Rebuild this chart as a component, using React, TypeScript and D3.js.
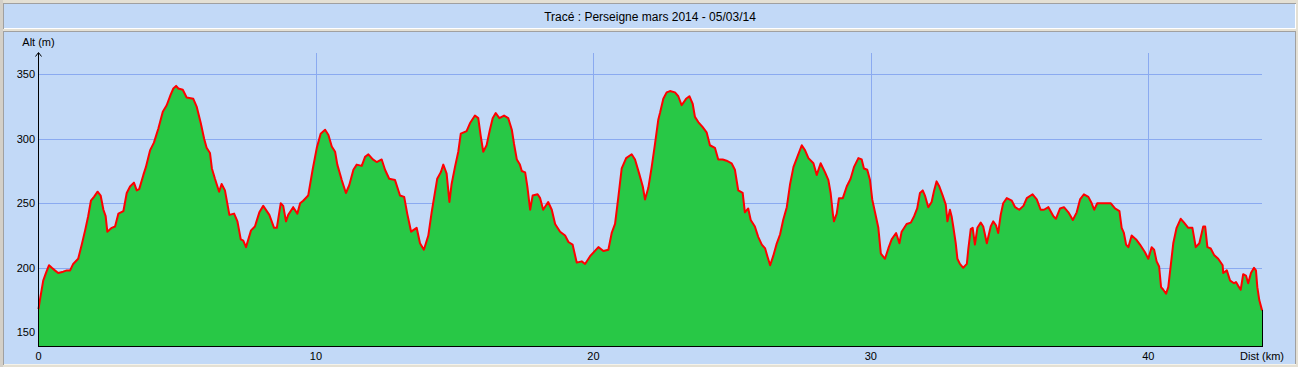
// Elevation profile: "Tracé : Perseigne mars 2014"
import * as d3 from 'd3';

// Chart size
const W = 1298;
const H = 367;

// Distance along the track (km)
const distKm = [
  0, 0.05, 0.17, 0.27, 0.38, 0.48, 0.59, 0.71, 0.89, 1.02, 1.14, 1.25, 1.43, 1.56, 1.68, 1.79, 1.89, 2.0, 2.13, 2.24,
  2.34, 2.42, 2.48, 2.64, 2.76, 2.88, 3.06, 3.18, 3.3, 3.44, 3.54, 3.63, 3.78, 3.87, 4.02, 4.16, 4.32, 4.48, 4.62, 4.76,
  4.86, 4.96, 5.04, 5.2, 5.34, 5.58, 5.7, 5.85, 5.97, 6.06, 6.18, 6.25, 6.36, 6.51, 6.6, 6.72, 6.88, 7.05, 7.17, 7.29,
  7.38, 7.48, 7.66, 7.8, 7.96, 8.1, 8.32, 8.49, 8.59, 8.73, 8.82, 8.92, 9.0, 9.18, 9.33, 9.43, 9.54, 9.72, 9.88, 10.03,
  10.17, 10.33, 10.45, 10.57, 10.69, 10.77, 10.93, 11.08, 11.2, 11.35, 11.47, 11.65, 11.77, 11.89, 12.05, 12.19, 12.37, 12.49, 12.64, 12.85,
  13.03, 13.18, 13.29, 13.43, 13.63, 13.75, 13.89, 14.05, 14.17, 14.37, 14.5, 14.59, 14.71, 14.77, 14.81, 14.89, 15.01, 15.13, 15.22, 15.43,
  15.55, 15.73, 15.85, 15.94, 16.03, 16.15, 16.27, 16.37, 16.48, 16.61, 16.78, 16.93, 17.06, 17.14, 17.24, 17.35, 17.42, 17.54, 17.62, 17.72,
  17.81, 17.99, 18.08, 18.19, 18.37, 18.5, 18.62, 18.8, 18.98, 19.1, 19.25, 19.4, 19.58, 19.7, 19.88, 20.18, 20.36, 20.54, 20.66, 20.78,
  20.9, 21.02, 21.18, 21.38, 21.5, 21.65, 21.78, 21.86, 21.98, 22.1, 22.22, 22.34, 22.4, 22.52, 22.64, 22.76, 22.94, 23.06, 23.18, 23.34,
  23.46, 23.58, 23.66, 23.78, 23.94, 24.08, 24.2, 24.38, 24.5, 24.66, 24.8, 24.98, 25.1, 25.22, 25.38, 25.46, 25.58, 25.67, 25.82, 25.94,
  26.07, 26.19, 26.27, 26.37, 26.48, 26.61, 26.73, 26.84, 26.97, 27.09, 27.21, 27.35, 27.51, 27.63, 27.75, 27.93, 28.05, 28.19, 28.35, 28.47,
  28.55, 28.63, 28.67, 28.77, 28.85, 28.99, 29.13, 29.27, 29.39, 29.55, 29.67, 29.75, 29.87, 29.97, 30.05, 30.15, 30.27, 30.36, 30.51, 30.63,
  30.75, 30.91, 31.03, 31.11, 31.29, 31.44, 31.56, 31.67, 31.77, 31.87, 31.95, 32.07, 32.19, 32.28, 32.37, 32.47, 32.59, 32.7, 32.76, 32.85,
  32.91, 32.97, 33.06, 33.12, 33.21, 33.33, 33.46, 33.51, 33.6, 33.67, 33.75, 33.84, 33.96, 34.05, 34.18, 34.32, 34.41, 34.51, 34.59, 34.68,
  34.77, 34.9, 35.08, 35.2, 35.35, 35.5, 35.62, 35.83, 35.98, 36.12, 36.24, 36.4, 36.58, 36.67, 36.82, 36.96, 37.12, 37.28, 37.42, 37.54,
  37.68, 37.84, 37.96, 38.05, 38.16, 38.44, 38.65, 38.8, 38.96, 39.04, 39.12, 39.2, 39.28, 39.4, 39.56, 39.7, 39.88, 40.0, 40.12, 40.21,
  40.3, 40.39, 40.46, 40.54, 40.64, 40.72, 40.81, 40.9, 41.02, 41.17, 41.29, 41.44, 41.59, 41.71, 41.84, 41.98, 42.05, 42.13, 42.25, 42.37,
  42.52, 42.68, 42.7, 42.83, 42.95, 43.09, 43.16, 43.24, 43.33, 43.42, 43.52, 43.6, 43.7, 43.81, 43.88, 43.93, 44.0, 44.1,
];

// Altitude (m)
const altM = [
  168, 175, 190, 196, 202, 200, 198, 196, 197, 198, 198, 203, 207, 218, 229, 240, 252, 255, 259, 256,
  245, 240, 228, 231, 232, 242, 244, 258, 263, 266, 260, 261, 272, 278, 291, 297, 308, 321, 326, 334,
  339, 341, 339, 338, 332, 331, 325, 312, 300, 293, 289, 277, 269, 259, 265, 260, 241, 242, 236, 222,
  221, 216, 229, 232, 243, 248, 241, 231, 231, 250, 248, 236, 241, 247, 242, 250, 252, 256, 276, 293,
  304, 307, 303, 294, 290, 280, 268, 258, 264, 276, 280, 279, 286, 288, 284, 282, 284, 276, 269, 268,
  256, 255, 242, 228, 231, 219, 214, 225, 243, 269, 274, 280, 273, 260, 251, 265, 278, 290, 304, 306,
  312, 318, 316, 302, 290, 295, 307, 316, 320, 316, 318, 316, 307, 296, 284, 280, 275, 274, 263, 245,
  256, 257, 254, 245, 251, 245, 234, 228, 225, 220, 218, 204, 205, 203, 209, 216, 213, 214, 227, 234,
  255, 277, 285, 288, 284, 273, 263, 253, 262, 278, 296, 315, 320, 331, 336, 337, 336, 333, 326, 331,
  333, 327, 317, 313, 309, 305, 295, 293, 284, 284, 283, 281, 276, 260, 258, 243, 246, 237, 232, 224,
  218, 215, 209, 202, 209, 219, 226, 237, 247, 265, 278, 286, 295, 291, 285, 281, 272, 281, 274, 268,
  258, 242, 236, 242, 254, 254, 263, 269, 278, 285, 284, 277, 276, 268, 253, 243, 231, 211, 207, 215,
  222, 227, 219, 228, 234, 235, 240, 246, 258, 260, 256, 247, 251, 260, 267, 263, 256, 249, 236, 245,
  240, 232, 219, 207, 203, 200, 203, 214, 230, 231, 218, 231, 235, 232, 219, 232, 236, 233, 227, 241,
  250, 254, 252, 247, 245, 248, 254, 257, 253, 245, 245, 247, 240, 238, 246, 247, 243, 237, 243, 253,
  257, 255, 250, 245, 250, 250, 250, 246, 244, 231, 227, 218, 216, 225, 222, 218, 212, 207, 216, 214,
  205, 201, 185, 183, 180, 185, 202, 219, 231, 238, 235, 231, 231, 216, 219, 232, 232, 216, 215, 210,
  207, 202, 196, 198, 190, 188, 189, 186, 183, 195, 194, 188, 196, 200, 198, 185, 175, 167,
];

// Axis ticks and grid
const xTicks = [0, 10, 20, 30, 40];
const yTicks = [150, 200, 250, 300, 350];
const xGrid = [10, 20, 30, 40];
const yGrid = [200, 250, 300, 350];

const title = 'Tracé : Perseigne mars 2014 - 05/03/14';

const BG = '#C2D9F7';
const GRID = '#8AAAF0';
const FONT = '"Liberation Sans", Arial, sans-serif';

const App = () => {
  const data = distKm.map((d, i) => ({ d, a: altM[i] }));

  // plot box
  const plotTop = 53;
  const plotBottom = 346;

  const xScale = d3.scaleLinear().domain([0, 40]).range([38.5, 1148.3]);
  const yScale = d3.scaleLinear().domain([150, 350]).range([332.3, 74.3]);
  const xEnd = xScale(distKm[distKm.length - 1]);
  const px = (v: number) => Math.round(v) + 0.5;

  const area = d3.area<{ d: number; a: number }>()
    .x(p => xScale(p.d))
    .y0(plotBottom)
    .y1(p => yScale(p.a));
  const line = d3.line<{ d: number; a: number }>()
    .x(p => xScale(p.d))
    .y(p => yScale(p.a));

  const last = data[data.length - 1];

  return (
    <svg width={W} height={H} style={{ position: 'absolute', left: 0, top: 0, display: 'block' }}
      fontFamily={FONT}>
      {/* window frame */}
      <rect x={0} y={0} width={W} height={H} fill="#E4E0D4" />
      <rect x={0} y={0} width={3} height={H} fill="#D4D0C8" />

      {/* title panel */}
      <rect x={3} y={3} width={1293} height={26} fill={BG} />
      <path d="M3.5,28.5 V3.5 H1295.5" fill="none" stroke="#A0A0A0" shapeRendering="crispEdges" />
      <path d="M3.5,28.5 H1295.5 V3.5" fill="none" stroke="#FFFFFF" shapeRendering="crispEdges" />
      <text x={650} y={21} textAnchor="middle" fontSize={12} fill="#000">{title}</text>

      {/* chart panel */}
      <rect x={3} y={31} width={1293} height={334} fill={BG} />
      <path d="M3.5,364.5 V31.5 H1295.5 V364.5" fill="none" stroke="#A0A0A0" shapeRendering="crispEdges" />
      <path d="M3.5,364.5 H1295.5" fill="none" stroke="#F4F2EA" shapeRendering="crispEdges" />

      {/* grid */}
      {yGrid.map(v => (
        <line key={'gy' + v} x1={38} x2={xEnd} y1={px(yScale(v))} y2={px(yScale(v))}
          stroke={GRID} shapeRendering="crispEdges" />
      ))}
      {xGrid.map(v => (
        <line key={'gx' + v} x1={px(xScale(v))} x2={px(xScale(v))} y1={plotTop} y2={plotBottom}
          stroke={GRID} shapeRendering="crispEdges" />
      ))}

      {/* profile */}
      <path d={area(data) || ''} fill="#28C846" />
      <path d={line(data) || ''} fill="none" stroke="#FF0000" strokeWidth={2} strokeLinejoin="round" />
      <line x1={px(xEnd)} x2={px(xEnd)} y1={yScale(last.a)} y2={plotBottom} stroke="#000" shapeRendering="crispEdges" />

      {/* axes */}
      <line x1={38.5} x2={38.5} y1={plotTop} y2={plotBottom + 1} stroke="#000" shapeRendering="crispEdges" />
      <line x1={38} x2={px(xEnd) + 0.5} y1={346.5} y2={346.5} stroke="#000" shapeRendering="crispEdges" />
      <path d="M35.5,56.5 L38.5,52.5 L41.5,56.5" fill="none" stroke="#000" />

      {/* tick labels */}
      {yTicks.map(v => (
        <text key={'ty' + v} x={35} y={yScale(v) + 4} textAnchor="end" fontSize={11} fill="#000">{v}</text>
      ))}
      {xTicks.map(v => (
        <text key={'tx' + v} x={xScale(v)} y={360} textAnchor="middle" fontSize={11} fill="#000">{v}</text>
      ))}
      <text x={38.5} y={46} textAnchor="middle" fontSize={11} fill="#000">Alt (m)</text>
      <text x={xEnd} y={360} textAnchor="middle" fontSize={11} fill="#000">Dist (km)</text>
    </svg>
  );
};

export default App;
